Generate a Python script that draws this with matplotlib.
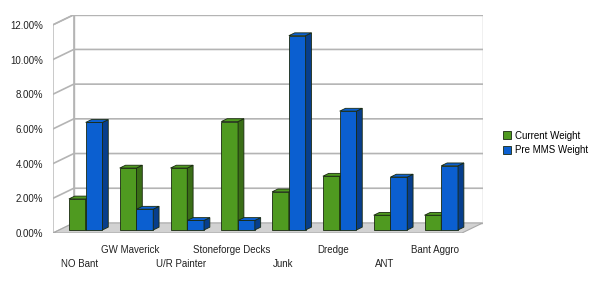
import matplotlib.pyplot as plt
from matplotlib.patches import Polygon, Patch
from matplotlib.ticker import FuncFormatter

plt.rcParams['font.family'] = ['Liberation Sans', 'DejaVu Sans']

decks = ["NO Bant", "GW Maverick", "U/R Painter", "Stoneforge Decks",
         "Junk", "Dredge", "ANT", "Bant Aggro"]
current_weight = [1.79, 3.57, 3.57, 6.25, 2.2, 3.1, 0.85, 0.85]
pre_mms_weight = [6.2, 1.2, 0.55, 0.55, 11.2, 6.85, 3.05, 3.7]
series_names = ["Current Weight", "Pre MMS Weight"]
yticks = [0, 2, 4, 6, 8, 10, 12]

green, green_side = "#4f9a20", "#3a6e17"
blue, blue_side = "#0b5fd0", "#073e8c"
grid_col = "#b4b4b4"

fig = plt.figure(figsize=(6, 2.86), dpi=100)
# front plane of the 3d box: x = category index, y = percent
ax = fig.add_axes([53 / 600, 53 / 286, 430 / 600, 218 / 286])
x0, x1 = -0.52, 7.53
DX, DY = 0.41, 0.58          # full depth of the box
ax.set_xlim(x0, x0 + 430 / 50.8)
ax.set_ylim(0, 218 / 17.35)
for s in ax.spines.values():
    s.set_visible(False)

# back wall, left wall, floor
ymax = yticks[-1]
ax.add_patch(Polygon([(x0 + DX, DY), (x1 + DX, DY), (x1 + DX, ymax + DY), (x0 + DX, ymax + DY)],
                     closed=True, facecolor="white", edgecolor=grid_col, lw=1, zorder=0))
ax.add_patch(Polygon([(x0, 0), (x0 + DX, DY), (x0 + DX, ymax + DY), (x0, ymax)],
                     closed=True, facecolor="white", edgecolor=grid_col, lw=1, zorder=0))
for g in yticks[1:]:
    ax.plot([x0, x0 + DX, x1 + DX], [g, g + DY, g + DY], color=grid_col, lw=1.2, zorder=1)
ax.add_patch(Polygon([(x0, 0), (x1, 0), (x1 + DX, DY), (x0 + DX, DY)],
                     closed=True, facecolor="#d2d2d2", edgecolor="#a8a8a8", lw=0.8, zorder=1))

# bars, placed a bit behind the front plane
off = 0.3
bd = 0.28
w = 0.33
bx, by = off * DX, off * DY
sx, sy = bd * DX, bd * DY


def draw_bar(xl, h, face, side, z):
    xr = xl + w
    b = by
    ax.bar(xl, h, width=w, bottom=b, align="edge", color=face,
           edgecolor="#1a2a10", lw=0.6, zorder=z)
    ax.add_patch(Polygon([(xr, b), (xr + sx, b + sy), (xr + sx, b + h + sy), (xr, b + h)],
                         closed=True, facecolor=side, edgecolor="#1a2a10", lw=0.6, zorder=z))
    ax.add_patch(Polygon([(xl, b + h), (xl + sx, b + h + sy), (xr + sx, b + h + sy), (xr, b + h)],
                         closed=True, facecolor=face, edgecolor="#1a2a10", lw=0.6, zorder=z))


for i in range(len(decks)):
    c = i + bx
    draw_bar(c - w, current_weight[i], green, green_side, 3 + 2 * i)
    draw_bar(c, pre_mms_weight[i], blue, blue_side, 4 + 2 * i)

ax.set_yticks(yticks)
ax.yaxis.set_major_formatter(FuncFormatter(lambda v, p: f"{v:.2f}%"))
# staggered category labels: odd ones on the upper row, even ones below
ax.set_xticks(range(1, len(decks), 2))
ax.set_xticklabels(decks[1::2])
ax.set_xticks(range(0, len(decks), 2), minor=True)
ax.set_xticklabels(decks[0::2], minor=True)
ax.tick_params(axis="both", which="both", length=0, labelsize=7, colors="#222222")
ax.tick_params(axis="y", pad=7)
ax.tick_params(axis="x", which="major", pad=8.5)
ax.tick_params(axis="x", which="minor", pad=19)

handles = [Patch(facecolor=green, edgecolor="#1a2a10", lw=0.6),
           Patch(facecolor=blue, edgecolor="#1a2a10", lw=0.6)]
fig.legend(handles, series_names, loc="center left", bbox_to_anchor=(503 / 600, 1 - 143 / 286),
           frameon=False, fontsize=7, handlelength=0.8, handleheight=0.8,
           handletextpad=0.4, labelspacing=0.5, borderaxespad=0, borderpad=0)

fig.savefig("out.png", dpi=100)
